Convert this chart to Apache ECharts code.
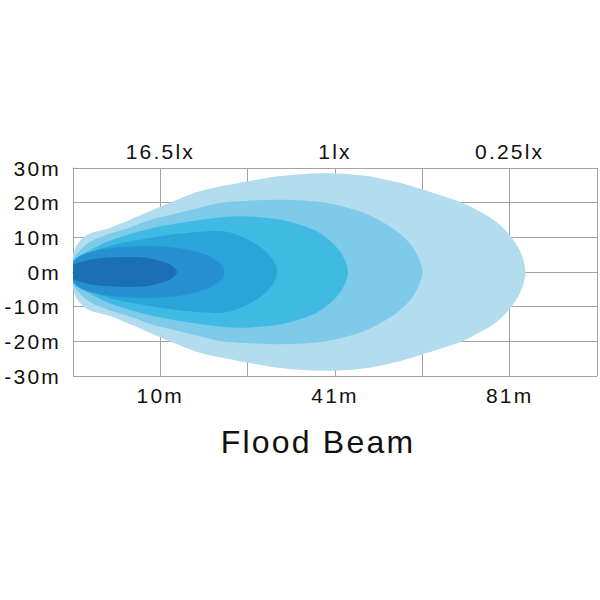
<!DOCTYPE html>
<html>
<head>
<meta charset="utf-8">
<script src="https://cdn.jsdelivr.net/npm/echarts@6/dist/echarts.min.js"></script>
<style>
  html, body { margin: 0; padding: 0; background: #ffffff; }
  #chart { width: 600px; height: 600px; }
  #chart text { letter-spacing: 2.2px !important; }
</style>
</head>
<body>
<div id="chart"></div>
<script>
// Tick labels
const distanceLabels = ['10m', '41m', '81m'];
const luxLabels = ['16.5lx', '1lx', '0.25lx'];
const labelColumns = [1, 3, 5];
const chartTitle = 'Flood Beam';

// Beam zone outlines, outermost to innermost: [distance (grid columns), half-width (m)]
const zone6 = [[0,4.5],[0.05,8.0],[0.17,10.8],[0.42,12.7],[0.88,17.5],[1.11,20.0],[1.45,23.3],[1.87,25.5],[2.35,27.6],[2.85,28.5],[3.3,27.9],[3.73,25.8],[4.15,22.6],[4.49,19.6],[4.87,14.0],[5.1,7.0],[5.18,0]];
const zone5 = [[0,3.6],[0.05,5.5],[0.2,8.8],[0.42,11.0],[0.67,13.0],[0.88,15.0],[1.43,18.4],[1.68,19.9],[2.13,20.7],[2.5,20.8],[2.9,20.0],[3.27,17.6],[3.5,15.0],[3.73,11.3],[3.9,6.8],[4.0,0]];
const zone4 = [[0,3.1],[0.1,5.0],[0.42,9.0],[0.88,12.5],[1.11,13.6],[1.45,15.0],[1.8,16.0],[2.1,15.9],[2.4,15.0],[2.65,13.2],[2.8,11.6],[2.95,8.8],[3.07,5.5],[3.15,0]];
const zone3 = [[0,2.8],[0.1,4.4],[0.42,7.5],[0.88,9.8],[1.2,11.0],[1.5,11.7],[1.65,11.8],[1.8,11.4],[1.94,10.1],[2.1,8.0],[2.21,5.8],[2.3,3.0],[2.34,0]];
const zone2 = [[0,2.4],[0.07,4.5],[0.2,5.8],[0.37,6.7],[0.6,7.3],[0.88,7.5],[1.15,7.1],[1.43,5.8],[1.6,4.0],[1.7,2.2],[1.735,0]];
const zone1 = [[0,2.0],[0.03,2.4],[0.22,3.7],[0.56,4.3],[0.8,4.2],[0.94,3.6],[1.1,2.3],[1.17,1.0],[1.19,0]];
const zones = [zone6, zone5, zone4, zone3, zone2, zone1];
const zoneColors = ['#b3dcef', '#7ecae9', '#40bae3', '#2aa5d9', '#2690d0', '#1d6fb5'];

const FONT = 'Liberation Sans, Arial, sans-serif';
const TEXT_COLOR = '#111111';
const GRID_COLOR = '#a3a3a3';

function colLabel(list) {
  return function (v) {
    const i = labelColumns.indexOf(Math.round(v));
    return i >= 0 && Math.abs(v - Math.round(v)) < 1e-6 ? list[i] : '';
  };
}

const chart = echarts.init(document.getElementById('chart'), null, { renderer: 'svg' });
chart.setOption({
  animation: false,
  backgroundColor: '#ffffff',
  title: {
    text: chartTitle,
    left: 313,
    top: 421,
    textAlign: 'center',
    textStyle: { fontFamily: FONT, fontSize: 32, fontWeight: 'normal', color: TEXT_COLOR }
  },
  grid: { left: 73, right: 1, top: 168, bottom: 224, containLabel: false },
  xAxis: [
    {
      type: 'value', min: 0, max: 6, interval: 1, position: 'bottom',
      axisLine: { show: true, lineStyle: { color: GRID_COLOR, width: 1 } },
      axisTick: { show: false },
      splitLine: { show: true, lineStyle: { color: GRID_COLOR, width: 1 } },
      axisLabel: { formatter: colLabel(distanceLabels), fontFamily: FONT, fontSize: 21, color: TEXT_COLOR, margin: 9 }
    },
    {
      type: 'value', min: 0, max: 6, interval: 1, position: 'top',
      axisLine: { show: true, lineStyle: { color: GRID_COLOR, width: 1 } },
      axisTick: { show: false },
      splitLine: { show: false },
      axisLabel: { formatter: colLabel(luxLabels), fontFamily: FONT, fontSize: 21, color: TEXT_COLOR, margin: 6 }
    }
  ],
  yAxis: {
    type: 'value', min: -30, max: 30, interval: 10,
    axisLine: { show: true, lineStyle: { color: GRID_COLOR, width: 1 } },
    axisTick: { show: false },
    splitLine: { show: true, lineStyle: { color: GRID_COLOR, width: 1 } },
    axisLabel: { formatter: '{value}m', fontFamily: FONT, fontSize: 21, color: TEXT_COLOR, margin: 12 }
  },
  series: [{
    type: 'custom',
    clip: true,
    xAxisIndex: 0,
    yAxisIndex: 0,
    data: zones.map(function (z, i) { return [i]; }),
    renderItem: function (params, api) {
      const zone = zones[params.dataIndex];
      const pts = [];
      zone.forEach(function (p) { pts.push(api.coord([p[0], p[1]])); });
      for (let i = zone.length - 1; i >= 0; i--) {
        if (zone[i][1] === 0) continue;
        pts.push(api.coord([zone[i][0], -zone[i][1]]));
      }
      return {
        type: 'polygon',
        shape: { points: pts, smooth: 0.3 },
        style: { fill: zoneColors[params.dataIndex] }
      };
    }
  }]
});
</script>
</body>
</html>
